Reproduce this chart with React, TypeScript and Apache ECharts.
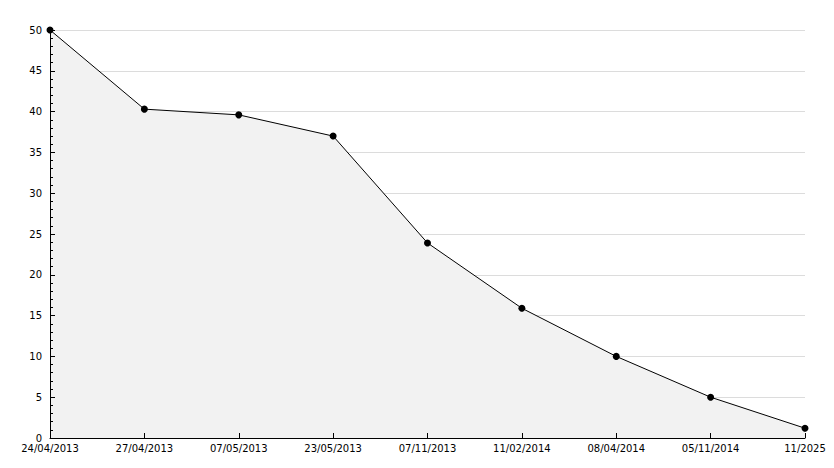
import React, { useEffect, useRef } from "react";
import * as echarts from "echarts";

const categories = [
  "24/04/2013",
  "27/04/2013",
  "07/05/2013",
  "23/05/2013",
  "07/11/2013",
  "11/02/2014",
  "08/04/2014",
  "05/11/2014",
  "11/2025",
];
const values = [50, 40.3, 39.6, 37.0, 23.9, 15.9, 10.0, 5.0, 1.2];
const yMin = 0;
const yMax = 50;
const yStep = 5;

export default function App() {
  const ref = useRef<HTMLDivElement>(null);
  useEffect(() => {
    if (!ref.current) return;
    const chart = echarts.init(ref.current, null, { renderer: "svg" });
    const font = "DejaVu Sans, Verdana, sans-serif";
    chart.setOption({
      animation: false,
      backgroundColor: "#ffffff",
      grid: { left: 50, right: 29, top: 30, bottom: 30 },
      xAxis: {
        type: "category",
        data: categories,
        boundaryGap: false,
        z: 5,
        axisLine: { show: true, lineStyle: { color: "#000", width: 1 } },
        axisTick: { show: true, inside: true, length: 5, alignWithLabel: true, lineStyle: { color: "#000" } },
        axisLabel: { interval: 0, color: "#000", fontSize: 10, fontFamily: font, margin: 5 },
        splitLine: { show: false },
      },
      yAxis: [
        {
          type: "value",
          min: yMin,
          max: yMax,
          interval: yStep,
          z: 5,
          axisLine: { show: true, lineStyle: { color: "#000", width: 1 } },
          axisTick: { show: true, inside: true, length: 5, lineStyle: { color: "#000" } },
          minorTick: { show: true, splitNumber: 5, length: 3, lineStyle: { color: "#000" } },
          axisLabel: { color: "#000", fontSize: 10, fontFamily: font, margin: 8 },
          splitLine: { show: false },
        },
        {
          type: "value",
          min: yMin,
          max: yMax,
          interval: yStep,
          position: "left",
          z: 0,
          axisLine: { show: false },
          axisTick: { show: false },
          axisLabel: { show: false },
          splitLine: { show: true, lineStyle: { color: "#dcdcdc", width: 1 } },
        },
      ],
      series: [
        {
          type: "line",
          data: values,
          yAxisIndex: 0,
          symbol: "circle",
          symbolSize: 7,
          showSymbol: true,
          z: 2,
          itemStyle: { color: "#000" },
          lineStyle: { color: "#000", width: 1 },
          areaStyle: { color: "#f2f2f2", opacity: 1 },
        },
      ],
    });
    return () => chart.dispose();
  }, []);
  return <div ref={ref} style={{ width: 834, height: 468, position: "absolute", left: 0, top: 0 }} />;
}
